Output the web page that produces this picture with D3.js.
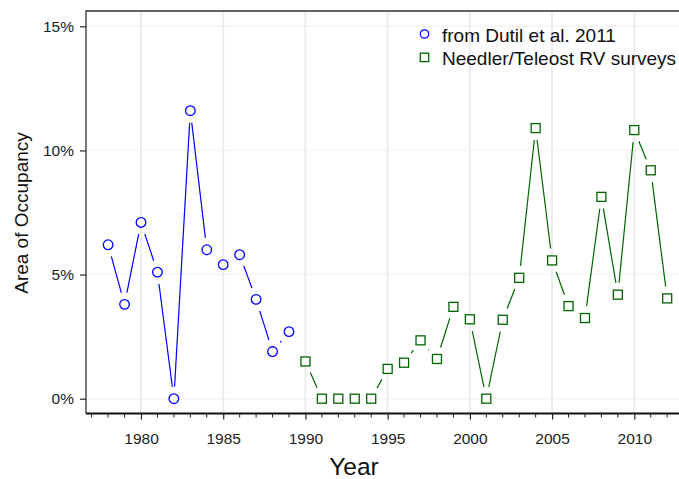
<!DOCTYPE html>
<html>
<head>
<meta charset="utf-8">
<script src="https://cdn.jsdelivr.net/npm/d3@7"></script>
<style>
  html, body { margin: 0; padding: 0; background: #fff; }
  svg { display: block; font-family: "Liberation Sans", Arial, Helvetica, sans-serif; }
</style>
</head>
<body>
<svg id="chart" width="679" height="479"></svg>
<script>
// Area of occupancy by year, two sources
const dutilYears = [1978, 1979, 1980, 1981, 1982, 1983, 1984, 1985, 1986, 1987, 1988, 1989];
const dutilValues = [6.2, 3.8, 7.1, 5.1, 0.0, 11.6, 6.0, 5.4, 5.8, 4.0, 1.9, 2.7];

const rvYears = [1990, 1991, 1992, 1993, 1994, 1995, 1996, 1997, 1998, 1999, 2000,
                 2001, 2002, 2003, 2004, 2005, 2006, 2007, 2008, 2009, 2010, 2011, 2012];
const rvValues = [1.5, 0.0, 0.0, 0.0, 0.0, 1.2, 1.45, 2.35, 1.6, 3.7, 3.2,
                  0.0, 3.18, 4.87, 10.9, 5.57, 3.73, 3.25, 8.13, 4.19, 10.82, 9.2, 4.04];

const yTicks = [0, 5, 10, 15];
const xMajorTicks = [1980, 1985, 1990, 1995, 2000, 2005, 2010];
const legendLabels = ["from Dutil et al. 2011", "Needler/Teleost RV surveys"];

const svg = d3.select("#chart");
const FONT = "Liberation Sans, Arial, sans-serif";

const plotLeft = 86, plotTop = 11, plotBottom = 413.5, plotRight = 720;

const x = d3.scaleLinear().domain([1980, 2010]).range([141, 634.3]);
const y = d3.scaleLinear().domain([0, 15]).range([398.7, 26.3]);

// light grid
const grid = svg.append("g");
grid.selectAll("line.h").data(yTicks).join("line")
  .attr("x1", plotLeft).attr("x2", plotRight)
  .attr("y1", d => y(d)).attr("y2", d => y(d))
  .attr("stroke", "#f4f4f4").attr("stroke-width", 1.5);
grid.selectAll("line.v").data(xMajorTicks).join("line")
  .attr("x1", d => x(d)).attr("x2", d => x(d))
  .attr("y1", plotTop).attr("y2", plotBottom)
  .attr("stroke", "#ececec").attr("stroke-width", 2);

// frame: top and left edges
svg.append("path")
  .attr("d", `M${plotRight},${plotTop}H${plotLeft}V${plotBottom}`)
  .attr("fill", "none").attr("stroke", "#333").attr("stroke-width", 1.3);

// y axis
const yAxis = d3.axisLeft(y).tickValues(yTicks).tickSize(6).tickPadding(6)
  .tickFormat(d => d + "%");
const gy = svg.append("g").attr("transform", `translate(${plotLeft},0)`).call(yAxis);
gy.attr("font-size", 15.5).attr("font-family", FONT);
gy.select(".domain").remove();
gy.selectAll(".tick line").attr("stroke", "#333").attr("stroke-width", 1.3);
gy.selectAll(".tick text").attr("fill", "#222");

// x axis: yearly minor ticks, labelled majors every 5 years
const minorYears = d3.range(1977, 2014);
const gx = svg.append("g").attr("transform", `translate(0,${plotBottom})`);
gx.append("line").attr("x1", plotLeft).attr("x2", plotRight)
  .attr("stroke", "#111").attr("stroke-width", 2);
gx.selectAll("line.minor").data(minorYears.filter(d => d % 5 !== 0)).join("line")
  .attr("x1", d => x(d)).attr("x2", d => x(d)).attr("y1", 0).attr("y2", 4)
  .attr("stroke", "#222").attr("stroke-width", 1);
const xAxis = d3.axisBottom(x).tickValues(xMajorTicks).tickSize(6).tickPadding(13)
  .tickFormat(d3.format("d"));
const gxMajor = gx.append("g").call(xAxis);
gxMajor.attr("font-size", 15.5).attr("font-family", FONT);
gxMajor.select(".domain").remove();
gxMajor.selectAll(".tick line").attr("stroke", "#222").attr("stroke-width", 1.2);
gxMajor.selectAll(".tick text").attr("fill", "#222");

// axis titles
svg.append("text").attr("x", 354).attr("y", 475).attr("text-anchor", "middle")
  .attr("font-size", 24.5).attr("fill", "#111").text("Year");
svg.append("text").attr("transform", "translate(28,213) rotate(-90)")
  .attr("text-anchor", "middle").attr("font-size", 19).attr("fill", "#111")
  .text("Area of Occupancy");

// line segments with gaps around the markers
const GAP = 12;
function gappedSegments(years, values) {
  const segs = [];
  for (let i = 0; i < years.length - 1; i++) {
    const x1 = x(years[i]), y1 = y(values[i]);
    const x2 = x(years[i + 1]), y2 = y(values[i + 1]);
    const dx = x2 - x1, dy = y2 - y1;
    const len = Math.hypot(dx, dy);
    if (len <= 2 * GAP) continue;
    const ux = dx / len, uy = dy / len;
    segs.push([x1 + ux * GAP, y1 + uy * GAP, x2 - ux * GAP, y2 - uy * GAP]);
  }
  return segs;
}

function drawSeries(years, values, color, shape) {
  const g = svg.append("g");
  g.selectAll("line").data(gappedSegments(years, values)).join("line")
    .attr("x1", d => d[0]).attr("y1", d => d[1])
    .attr("x2", d => d[2]).attr("y2", d => d[3])
    .attr("stroke", color).attr("stroke-width", 1.2);
  const pts = years.map((yr, i) => [x(yr), y(values[i])]);
  if (shape === "circle") {
    g.selectAll("circle").data(pts).join("circle")
      .attr("cx", d => d[0]).attr("cy", d => d[1]).attr("r", 4.8)
      .attr("fill", "#fff").attr("stroke", color).attr("stroke-width", 1.3);
  } else {
    g.selectAll("rect").data(pts).join("rect")
      .attr("x", d => d[0] - 4.5).attr("y", d => d[1] - 4.5)
      .attr("width", 9).attr("height", 9)
      .attr("fill", "#fff").attr("stroke", color).attr("stroke-width", 1.3);
  }
}

drawSeries(dutilYears, dutilValues, "#0000ff", "circle");
drawSeries(rvYears, rvValues, "#006400", "square");

// legend
const legend = svg.append("g");
legend.append("circle").attr("cx", 424.5).attr("cy", 34).attr("r", 4.2)
  .attr("fill", "none").attr("stroke", "#0000ff").attr("stroke-width", 1.3);
legend.append("rect").attr("x", 420.3).attr("y", 53.2).attr("width", 8.4).attr("height", 8.4)
  .attr("fill", "none").attr("stroke", "#006400").attr("stroke-width", 1.3);
legend.selectAll("text").data(legendLabels).join("text")
  .attr("x", 442).attr("y", (d, i) => 41.5 + i * 23)
  .attr("font-size", 19).attr("fill", "#111").text(d => d);
</script>
</body>
</html>
